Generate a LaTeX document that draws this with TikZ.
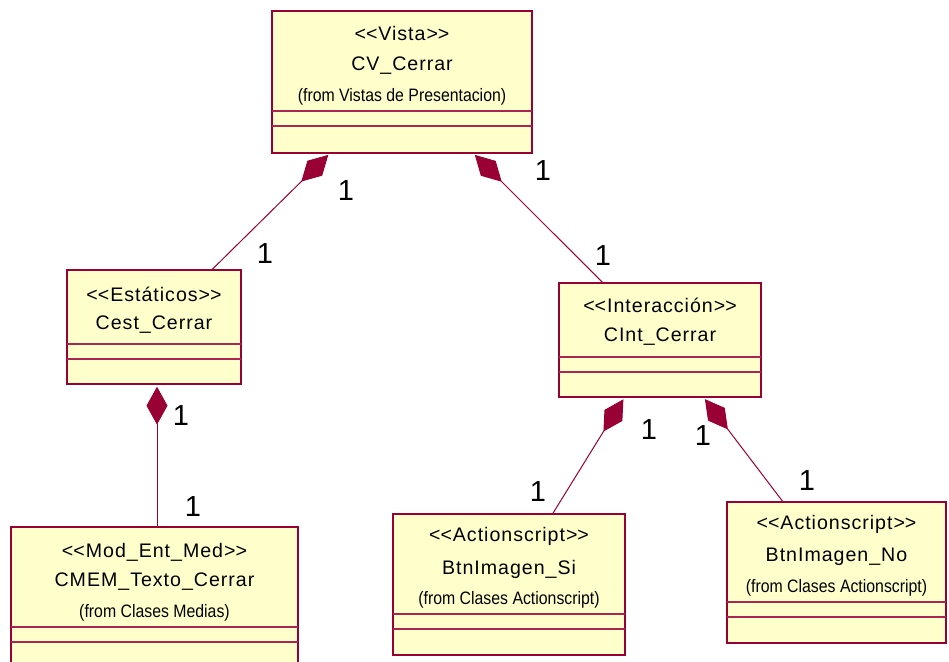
\documentclass[tikz,border=0pt]{standalone}
\usepackage{fontspec}
\setmainfont{Liberation Sans}
\newfontfamily\classfont{Liberation Sans}[LetterSpace=5]
\newfontfamily\fromfont{Liberation Sans}[FakeStretch=0.88]
\usetikzlibrary{arrows.meta}
\definecolor{umlfill}{HTML}{FFFFCC}
\definecolor{umlline}{HTML}{990033}
\begin{document}
\begin{tikzpicture}[x=0.75pt,y=-0.75pt,
  classbox/.style={draw=umlline,fill=umlfill,line width=1.1pt,inner sep=0pt,outer sep=0pt},
  compline/.style={draw=umlline!85,line width=0.9pt},
  stereo/.style={font=\classfont\fontsize{14.7}{17}\selectfont,inner sep=0pt},
  fromtext/.style={font=\fromfont\fontsize{13.5}{15}\selectfont,inner sep=0pt},
  mult/.style={font=\fontsize{21.75}{24}\selectfont,inner sep=0pt},
  compose/.style={draw=umlline,line width=0.75pt,arrows={Diamond[length=28.5pt,width=15.75pt]-},shorten <=2pt},
]
\useasboundingbox (0,0) rectangle (949,661);
\clip (0,0) rectangle (949,661);

% class boxes
\node[classbox,minimum width=195pt,minimum height=106.5pt] (cv) at (402,82) {};
\node[classbox,minimum width=130.5pt,minimum height=85.5pt] (cest) at (154,327) {};
\node[classbox,minimum width=151.5pt,minimum height=85.5pt] (cint) at (660,340) {};
\node[classbox,minimum width=215.25pt,minimum height=129.75pt] (cmem) at (154.5,613.5) {};
\node[classbox,minimum width=174pt,minimum height=105.75pt] (btnsi) at (509,584.5) {};
\node[classbox,minimum width=164.25pt,minimum height=105.75pt] (btnno) at (836.5,572.5) {};

% attribute and operation compartments
\draw[compline] (cv.west |- 0,111) -- (cv.east |- 0,111);
\draw[compline] (cv.west |- 0,126) -- (cv.east |- 0,126);
\draw[compline] (cest.west |- 0,344) -- (cest.east |- 0,344);
\draw[compline] (cest.west |- 0,359) -- (cest.east |- 0,359);
\draw[compline] (cint.west |- 0,357) -- (cint.east |- 0,357);
\draw[compline] (cint.west |- 0,372) -- (cint.east |- 0,372);
\draw[compline] (cmem.west |- 0,627) -- (cmem.east |- 0,627);
\draw[compline] (cmem.west |- 0,642) -- (cmem.east |- 0,642);
\draw[compline] (btnsi.west |- 0,614) -- (btnsi.east |- 0,614);
\draw[compline] (btnsi.west |- 0,629) -- (btnsi.east |- 0,629);
\draw[compline] (btnno.west |- 0,602) -- (btnno.east |- 0,602);
\draw[compline] (btnno.west |- 0,617) -- (btnno.east |- 0,617);

% class texts
\node[stereo] (cv-st) at (402,33) {<\kern0pt<Vista>\kern0pt>};
\node[stereo] (cv-nm) at (402,66) {CV\_Cerrar};
\node[fromtext] (cv-fr) at (402,97) {(from Vistas de Presentacion)};

\node[stereo] (cest-st) at (154,294) {<\kern0pt<Estáticos>\kern0pt>};
\node[stereo] (cest-nm) at (154,325) {Cest\_Cerrar};

\node[stereo] (cint-st) at (660,305) {<\kern0pt<Interacción>\kern0pt>};
\node[stereo] (cint-nm) at (660,337) {CInt\_Cerrar};

\node[stereo] (cmem-st) at (154.5,552) {<\kern0pt<Mod\_Ent\_Med>\kern0pt>};
\node[stereo] (cmem-nm) at (154.5,582) {CMEM\_Texto\_Cerrar};
\node[fromtext] (cmem-fr) at (154.5,613) {(from Clases Medias)};

\node[stereo] (btnsi-st) at (509,536) {<\kern0pt<Actionscript>\kern0pt>};
\node[stereo] (btnsi-nm) at (509,569) {BtnImagen\_Si};
\node[fromtext] (btnsi-fr) at (509,600) {(from Clases Actionscript)};

\node[stereo] (btnno-st) at (836.5,524) {<\kern0pt<Actionscript>\kern0pt>};
\node[stereo] (btnno-nm) at (836.5,557) {BtnImagen\_No};
\node[fromtext] (btnno-fr) at (836.5,588) {(from Clases Actionscript)};

% composition associations
\draw[compose] (cv) -- (cest);
\draw[compose] (cv) -- (cint);
\draw[compose] ([xshift=2.25pt]cest.south) -- ([xshift=2.25pt]cest.south |- cmem.north);
\draw[compose] (cint) -- (btnsi);
\draw[compose] (cint) -- (btnno);

% multiplicities
\node[mult] (m1a) at (346,191) {1};
\node[mult] (m1b) at (265,254) {1};
\node[mult] (m2a) at (543,171) {1};
\node[mult] (m2b) at (603,256) {1};
\node[mult] (m3a) at (181,416) {1};
\node[mult] (m3b) at (193,507) {1};
\node[mult] (m4a) at (649,430) {1};
\node[mult] (m4b) at (538,492) {1};
\node[mult] (m5a) at (703,436) {1};
\node[mult] (m5b) at (807,481) {1};
\end{tikzpicture}
\end{document}
